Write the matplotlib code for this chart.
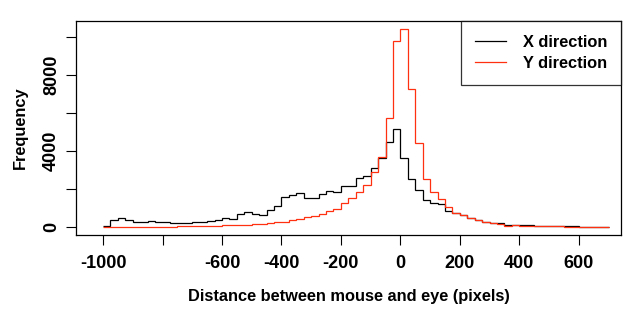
import matplotlib
matplotlib.use("Agg")
import matplotlib.pyplot as plt
import numpy as np

plt.rcParams['font.family'] = ['Liberation Sans', 'DejaVu Sans']
plt.rcParams['font.weight'] = 'bold'
plt.rcParams['axes.labelweight'] = 'bold'

# histogram bins: 25 px wide, -1000 .. 700
bin_start = -1000
bin_width = 25
x_counts = [70, 350, 460, 385, 280, 280, 300, 280, 280, 195,
            230, 230, 280, 250, 340, 370, 460, 400, 685, 790,
            685, 650, 895, 1120, 1600, 1700, 1770, 1545, 1510, 1720,
            1880, 1840, 2140, 2160, 2600, 2700, 3125, 3650, 4500, 5180,
            3650, 2510, 1950, 1420, 1280, 1210, 860, 756, 630, 457,
            370, 263, 228, 211, 125, 120, 90, 90, 80, 70,
            50, 40, 40, 35, 30, 30, 25, 25]
y_counts = [20, 20, 20, 20, 20, 20, 20, 20, 20, 20,
            70, 70, 70, 70, 70, 70, 90, 130, 130, 120,
            160, 170, 200, 250, 280, 370, 450, 530, 600, 690,
            860, 950, 1280, 1530, 1840, 2190, 2910, 3700, 5730, 9790,
            10420, 7255, 4410, 2530, 1860, 1460, 1036, 756, 615, 457,
            369, 246, 193, 140, 70, 90, 60, 55, 50, 40,
            35, 35, 30, 30, 25, 25, 20, 20]
edges = bin_start + bin_width * np.arange(len(x_counts) + 1)

x_ticks = [-1000, -800, -600, -400, -200, 0, 200, 400, 600]
x_labels = ['-1000', '', '-600', '-400', '-200', '0', '200', '400', '600']
y_ticks = [0, 2000, 4000, 6000, 8000, 10000]
y_labels = ['0', '', '4000', '', '8000', '']

RED = '#FF3010'

fig = plt.figure(figsize=(6.37, 3.14), dpi=100)
ax = fig.add_axes((76/637, 1 - 235/314, 545/637, 214/314))

ax.stairs(x_counts, edges, baseline=None, color='black', lw=0.9,
          label='X direction')
ax.stairs(y_counts, edges, baseline=None, color=RED, lw=0.9,
          label='Y direction')

ax.set_xlim(-1091, 742)
ax.set_ylim(-417, 10840)
ax.set_xticks(x_ticks)
ax.set_xticklabels(x_labels, fontsize=13)
ax.set_yticks(y_ticks)
ax.set_yticklabels(y_labels, fontsize=13, rotation=90, va='center')
ax.tick_params(direction='out', length=7.5, width=0.8, pad=7)
ax.tick_params(axis='y', pad=4)
for s in ax.spines.values():
    s.set_linewidth(0.9)

ax.set_xlabel('Distance between mouse and eye (pixels)', fontsize=11.8,
              labelpad=12)
ax.set_ylabel('Frequency', fontsize=11.8, labelpad=11)

leg = ax.legend(loc='upper right', fontsize=11.8, frameon=True, fancybox=False,
                edgecolor='black', borderaxespad=0, handlelength=1.9,
                handletextpad=1.0, borderpad=0.85, labelspacing=0.38)
leg.get_frame().set_linewidth(0.9)

fig.savefig('out.png', dpi=100)
